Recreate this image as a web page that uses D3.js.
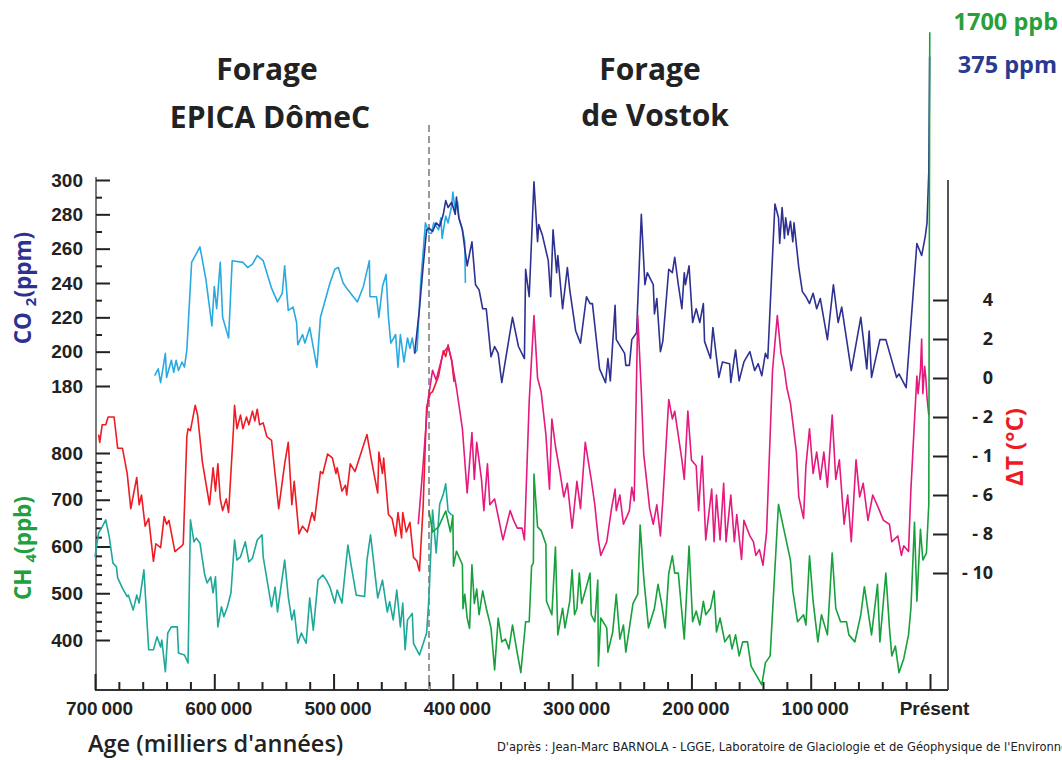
<!DOCTYPE html>
<html>
<head>
<meta charset="utf-8">
<script src="https://cdn.jsdelivr.net/npm/d3@7"></script>
<style>
  body { margin: 0; background: #fff; }
  svg { display: block; font-family: "Open Sans", "DejaVu Sans", sans-serif; }
  .tick text { font-weight: 700; fill: #222; }
</style>
</head>
<body>
<div id="chart"></div>
<script>
// ages in thousands of years before present
const co2Epica = [[650,186],[647,190],[645,182],[641,199],[640,185],[636,195],[634,188],[632,195],[630,189],[627,194],[625,191],[623,201],[619,252],[612,261],[607,242],[602,215],[600,238],[598,225],[597,234],[595,252],[593,220],[588,208],[585,253],[576,252],[572,249],[568,251],[564,256],[559,253],[552,237],[547,229],[543,234],[541,250],[538,224],[534,226],[531,217],[530,204],[526,210],[524,205],[520,214],[514,191],[511,220],[503,240],[499,248],[496,249],[492,240],[488,236],[480,229],[475,238],[470,253],[469.5,232],[464,232],[462,220],[459,238],[456,245],[454,220],[452,205],[448,210],[446,191],[444,210],[441,194],[438,208],[436,202],[434,208],[432,199],[430,201],[427,240],[423,275],[420,269],[418,269],[416,275],[412,271],[410,278],[409,266],[406,279],[404,275],[401,285],[400,293],[398,282],[396,287],[395,278],[392,271],[390,264],[389.5,240]];

const co2Vostok = [[432,199],[428,225],[425,249],[422,271],[420,272],[417,270],[414,275],[411,273],[408,280],[406,288],[404,284],[401,287],[398,280],[397,290],[395,278],[392,271],[390,260],[388,250],[384,264],[381,239],[378,236],[375,225],[372,225],[368,197],[365,203],[362,199],[359,182],[350,220],[345,203],[340,196],[339,248],[336,232],[332,299],[329,264],[328,274],[325,268],[320,253],[318,232],[316,271],[313,246],[312,256],[308,225],[304,249],[302,236],[297,212],[293,205],[288,232],[285,228],[283,228],[277,190],[272,182],[270,196],[268,183],[264,227],[263,207],[256,199],[255,192],[252,192],[250,207],[246,211],[242,280],[239,239],[237,246],[232,239],[231,222],[229,231],[226,200],[224,206],[219,248],[216,246],[214,255],[211,239],[208,225],[206,246],[205,239],[202,250],[199,217],[196,225],[193,217],[190,228],[189,206],[184,196],[182,214],[177,185],[174,194],[168,193],[167,182],[163,201],[160,183],[156,194],[151,200],[147,189],[144,193],[141,186],[138,199],[136,196],[130,286],[127,278],[126,263],[124,284],[122,266],[121,278],[119,268],[117,276],[115,264],[114,275],[110,249],[107,235],[104,232],[101,228],[98,234],[95,225],[92,231],[86,207],[81,239],[77,217],[74,226],[66,189],[58,220],[53,190],[51,212],[49,185],[42,207],[37,207],[28,185],[26,187],[20,179],[11,263],[7,256],[4,267],[2.5,275],[1,305],[0.3,372]];

const tempEpica = [[697,-2.9],[696,-3.3],[694,-2.4],[691,-2.4],[689,-2.0],[684,-2.0],[681,-3.6],[677,-3.6],[673,-4.9],[670,-6.7],[665,-5.1],[663,-6.5],[661,-6.0],[658,-7.6],[655,-7.2],[651,-9.4],[649,-8.5],[645,-8.7],[642,-7.1],[640,-7.5],[638,-7.3],[633,-8.9],[627,-8.6],[626,-8.5],[623,-3.0],[622,-2.6],[620,-2.7],[616,-1.4],[614,-1.9],[610,-4.3],[604,-6.5],[601,-4.6],[599,-5.8],[597,-4.4],[595,-6.2],[593,-6.8],[590,-6.2],[588,-6.9],[584,-2.7],[583,-1.4],[581,-2.6],[578,-1.9],[576,-2.6],[573,-2.0],[571,-2.4],[568,-1.7],[566,-2.2],[564,-1.6],[562,-2.4],[559,-2.3],[556,-3.0],[552,-3.2],[546,-6.7],[541,-4.4],[538,-3.3],[536,-5.4],[535,-6.5],[533,-5.3],[529,-8.0],[526,-7.6],[522,-7.9],[518,-6.9],[516,-7.3],[511,-4.8],[509,-4.9],[505,-3.9],[501,-4.1],[498,-4.9],[497,-4.6],[493,-5.8],[490,-5.5],[489,-6.0],[486,-4.4],[482,-4.8],[472,-2.9],[468,-4.3],[463,-5.9],[462,-3.8],[459,-4.9],[458,-4.1],[454,-7.0],[451,-7.2],[448,-8.1],[446,-6.9],[443,-8.2],[442,-6.9],[439,-7.9],[436,-7.4],[433,-9.2],[430,-9.4],[429,-9.7],[428,-9.9],[425,-6.7],[422,-1.5],[419,-0.8],[417,-0.7],[412,0.1],[408,1.4],[406,1.1],[404,1.7],[401,0.9],[399,-0.2]];

const tempVostok = [[429,-7.5],[425,-4.5],[421,-1.2],[417,0.4],[414,-0.1],[411,0.6],[408,1.3],[404,1.6],[401,0.9],[397,-0.5],[392,-2.6],[388,-5.9],[384,-2.8],[382,-5.2],[380,-3.3],[376,-5.2],[374,-6.8],[371,-4.4],[369,-6.5],[365,-6.2],[358,-8.3],[352,-6.8],[349,-7.3],[346,-7.7],[342,-7.7],[340,-8.3],[336,-1.2],[332,3.2],[329,0.0],[326,-0.7],[322,-2.9],[319,-5.7],[317,-2.1],[314,-3.5],[310,-4.9],[307,-6.1],[304,-5.4],[300,-7.7],[296,-5.3],[293,-6.7],[289,-3.3],[284,-5.2],[281,-6.5],[278,-8.3],[276,-9.1],[271,-8.4],[267,-6.7],[264,-5.7],[263,-6.8],[260,-6.0],[257,-7.5],[252,-6.8],[250,-5.6],[248,-6.3],[245,3.2],[242,-0.7],[240,-3.9],[235,-6.7],[232,-7.5],[229,-6.5],[226,-8.1],[224,-6.3],[219,-1.1],[216,-2.1],[214,-1.7],[208,-4.2],[206,-5.2],[203,-1.7],[200,-4.2],[196,-4.5],[194,-6.8],[191,-4.0],[188,-8.3],[183,-5.7],[181,-8.4],[179,-6.0],[176,-8.3],[173,-5.4],[171,-8.4],[167,-6.0],[164,-8.4],[162,-7.0],[158,-9.3],[156,-7.3],[151,-8.1],[148,-8.4],[146,-9.1],[143,-8.8],[140,-9.6],[137,-7.9],[132,0.4],[128,3.2],[125,1.3],[122,0.4],[120,-0.5],[117,-1.3],[114,-2.8],[112,-3.8],[110,-6.1],[106,-7.2],[104,-4.5],[101,-2.6],[98,-4.9],[95,-3.8],[92,-5.2],[89,-3.8],[86,-5.6],[82,-1.9],[79,-5.2],[76,-4.2],[72,-7.5],[69,-6.0],[66,-8.4],[62,-4.2],[59,-6.1],[56,-5.4],[52,-7.3],[48,-6.0],[43,-6.7],[39,-7.3],[34,-7.5],[32,-8.4],[27,-8.1],[24,-9.1],[22,-8.6],[18,-8.9],[16,-5.7],[13,-2.2],[11,0.1],[10,-0.8],[8,0.4],[7,2.0],[6,-0.8],[4.5,0.6],[3.5,0.0],[2.5,-1.0],[1,-1.9]];

const ch4Epica = [[700,578],[697,629],[694,642],[691,657],[688,620],[685,565],[682,556],[681,533],[677,511],[673,493],[672,496],[668,464],[665,496],[663,479],[659,550],[655,379],[651,379],[648,407],[645,385],[644,400],[641,332],[639,415],[636,428],[631,428],[630,372],[625,368],[622,351],[620,657],[617,610],[615,618],[612,607],[608,539],[606,522],[603,535],[601,501],[599,535],[597,428],[594,471],[592,450],[589,471],[586,501],[583,614],[581,571],[578,578],[574,610],[571,567],[568,575],[564,614],[560,625],[559,578],[552,471],[549,513],[547,460],[541,571],[538,493],[535,443],[533,464],[530,393],[527,415],[523,393],[520,490],[517,421],[513,528],[509,539],[506,528],[503,513],[499,479],[497,507],[493,479],[488,603],[485,556],[481,496],[474,493],[472,571],[469,625],[463,490],[459,528],[455,460],[453,482],[450,443],[447,507],[444,428],[442,479],[440,379],[438,443],[434,457],[433,393],[428,368],[422,415],[420,493],[417,678],[414,586],[411,691],[408,712],[406,734],[404,676],[401,667]];

const ch4Vostok = [[420,676],[417,631],[412,642],[406,676],[402,631],[400,667],[399.5,558],[397,590],[392,561],[391.5,467],[390,498],[388,447],[386,425],[384,561],[382,478],[380,509],[378,454],[375,505],[372,468],[368,426],[365,336],[362,447],[359,396],[356,402],[353,381],[350,432],[346,372],[343,330],[339,439],[336,439],[334,558],[332.5,565],[332,755],[329,642],[326,634],[322,605],[321.5,483],[317,454],[314,599],[312,411],[308,468],[306,426],[302,483],[300,550],[298,454],[296,468],[294,543],[292,478],[288,514],[285,543],[284,454],[281,439],[278.5,528],[278,344],[276,447],[271,426],[270,374],[266,417],[263,498],[260,402],[257,432],[255,374],[252,426],[249,478],[245,498],[243,646],[240,534],[236,426],[231,468],[228,519],[225,478],[222,426],[219,543],[216,580],[214,543],[211,543],[206,402],[202,601],[199,439],[196,462],[193,432],[190,483],[188,454],[184,468],[181,505],[179,417],[176,447],[172,396],[168,411],[166,381],[163,411],[160,366],[157,396],[153,396],[150,344],[141,304],[138,351],[134,366],[128,646],[127,690],[117,571],[115,505],[111,439],[106,454],[104,432],[101,580],[98,483],[94,396],[91,454],[86,411],[82,586],[79,468],[75,439],[70,439],[68,411],[63,396],[58,454],[55,514],[49,411],[44,519],[42,396],[37,543],[34,426],[32,366],[29,387],[26,330],[22,360],[18,411],[16,468],[13,652],[11,483],[8,637],[6,571],[3,586],[1,691],[0.2,1700]];

const co2Ticks = [180, 200, 220, 240, 260, 280, 300];
const ch4Ticks = [400, 500, 600, 700, 800];
const tempTicks = [4, 2, 0, -2, -4, -6, -8, -10];
const tempTickLabels = ["4", "2", "0", "- 2", "- 1", "- 6", "- 8", "- 10"];
const ageTicks = [700, 600, 500, 400, 300, 200, 100, 0];
const ageTickLabels = ["700\u2009000", "600\u2009000", "500\u2009000", "400\u2009000", "300\u2009000", "200\u2009000", "100\u2009000", "Présent"];
const drillSplit = 420;

const width = 1062;
const height = 760;

const svg = d3.select("#chart")
  .append("svg")
  .attr("width", width)
  .attr("height", height);

// Scales
const x = d3.scaleLinear().domain([700, 0]).range([95, 930]);
const yCO2 = d3.scaleLinear().domain([180, 300]).range([386, 180]);
const yCH4 = d3.scaleLinear().domain([400, 800]).range([640, 453]);
const yT = d3.scaleLinear().domain([-10, 4]).range([573, 300]);

const axisLeftX = 96;
const axisRightX = 948;
const axisBottomY = 690;

// Axis lines
svg.append("line")
  .attr("x1", axisLeftX).attr("x2", axisLeftX)
  .attr("y1", 177).attr("y2", axisBottomY)
  .attr("stroke", "#7a7a7a").attr("stroke-width", 2);

svg.append("line")
  .attr("x1", axisRightX).attr("x2", axisRightX)
  .attr("y1", 180).attr("y2", axisBottomY)
  .attr("stroke", "#555").attr("stroke-width", 2);

svg.append("line")
  .attr("x1", axisLeftX - 1).attr("x2", axisRightX)
  .attr("y1", axisBottomY).attr("y2", axisBottomY)
  .attr("stroke", "#333").attr("stroke-width", 2);

function styleAxis(g) {
  g.select(".domain").remove();
  g.selectAll(".tick line").attr("stroke", "#222").attr("stroke-width", 2);
}

// CO2 axis (left, upper)
svg.append("g")
  .attr("transform", `translate(${axisLeftX},0)`)
  .call(d3.axisLeft(yCO2).tickValues(d3.range(190, 300, 20)).tickSize(-6).tickFormat(""))
  .call(styleAxis);

svg.append("g")
  .attr("transform", `translate(${axisLeftX},0)`)
  .call(d3.axisLeft(yCO2).tickValues(co2Ticks).tickSize(-14).tickPadding(13))
  .call(styleAxis)
  .selectAll("text").attr("font-size", 19);

// CH4 axis (left, lower)
svg.append("g")
  .attr("transform", `translate(${axisLeftX},0)`)
  .call(d3.axisLeft(yCH4).tickValues(d3.range(420, 800, 20).filter(d => d % 100)).tickSize(-6).tickFormat(""))
  .call(styleAxis);

svg.append("g")
  .attr("transform", `translate(${axisLeftX},0)`)
  .call(d3.axisLeft(yCH4).tickValues(ch4Ticks).tickSize(-14).tickPadding(13))
  .call(styleAxis)
  .selectAll("text").attr("font-size", 19);

// Temperature axis (right)
svg.append("g")
  .attr("transform", `translate(${axisRightX},0)`)
  .call(d3.axisLeft(yT).tickValues(tempTicks).tickSize(15).tickFormat(""))
  .call(styleAxis);

svg.append("g")
  .selectAll("text")
  .data(tempTicks)
  .join("text")
  .attr("x", 993)
  .attr("y", d => yT(d))
  .attr("dy", "0.35em")
  .attr("text-anchor", "end")
  .attr("font-size", 18)
  .attr("font-weight", 700)
  .attr("fill", "#222")
  .text((d, i) => tempTickLabels[i]);

// Age axis (bottom)
svg.append("g")
  .attr("transform", `translate(0,${axisBottomY})`)
  .call(d3.axisBottom(x).tickValues(d3.range(20, 700, 20).filter(d => d % 100)).tickSize(-8).tickFormat(""))
  .call(styleAxis);

svg.append("g")
  .attr("transform", `translate(0,${axisBottomY})`)
  .call(d3.axisBottom(x).tickValues(ageTicks).tickSize(-16).tickPadding(12)
    .tickFormat((d, i) => ageTickLabels[i]))
  .call(styleAxis)
  .selectAll("text").attr("font-size", 19).attr("dx", 4);

// Boundary between the two drillings
svg.append("line")
  .attr("x1", x(drillSplit)).attr("x2", x(drillSplit))
  .attr("y1", 125).attr("y2", axisBottomY)
  .attr("stroke", "#999")
  .attr("stroke-width", 2)
  .attr("stroke-dasharray", "7,4");

// Series
const series = [
  { data: co2Epica, y: yCO2, color: "#29abe2" },
  { data: tempEpica, y: yT, color: "#ed1c24" },
  { data: ch4Epica, y: yCH4, color: "#1ea89a" },
  { data: co2Vostok, y: yCO2, color: "#2e3192" },
  { data: tempVostok, y: yT, color: "#e5197e" },
  { data: ch4Vostok, y: yCH4, color: "#17a03c" },
];

for (const s of series) {
  svg.append("path")
    .datum(s.data)
    .attr("fill", "none")
    .attr("stroke", s.color)
    .attr("stroke-width", 1.6)
    .attr("stroke-linejoin", "round")
    .attr("d", d3.line().x(d => x(d[0])).y(d => s.y(d[1])));
}

// Titles
[["Forage", 267, 80], ["EPICA DômeC", 270, 128], ["Forage", 650, 80], ["de Vostok", 655, 126]]
  .forEach(([t, tx, ty]) => {
    svg.append("text")
      .attr("x", tx).attr("y", ty)
      .attr("text-anchor", "middle")
      .attr("font-size", 30)
      .attr("font-weight", 700)
      .attr("fill", "#222")
      .text(t);
  });

// Present-day values
svg.append("text")
  .attr("x", 1058).attr("y", 30)
  .attr("text-anchor", "end")
  .attr("font-size", 23.5).attr("font-weight", 700)
  .attr("fill", "#27a03a")
  .text("1700 ppb");

svg.append("text")
  .attr("x", 1057).attr("y", 73)
  .attr("text-anchor", "end")
  .attr("font-size", 23.5).attr("font-weight", 700)
  .attr("fill", "#2b3990")
  .text("375 ppm");

// Axis titles
function rotatedLabel(cx, cy, color, parts) {
  const t = svg.append("text")
    .attr("transform", `translate(${cx},${cy}) rotate(-90)`)
    .attr("text-anchor", "middle")
    .attr("font-size", 22.5)
    .attr("font-weight", 700)
    .attr("fill", color);
  for (const [txt, sub] of parts) {
    const span = t.append("tspan").text(txt);
    if (sub) span.attr("font-size", 15).attr("dy", 5);
    else if (t.selectAll("tspan").size() > 1) span.attr("dy", -5);
  }
  return t;
}

rotatedLabel(31, 288, "#2e3192", [["CO ", false], ["2", true], ["(ppm)", false]]);
rotatedLabel(31, 548, "#1ea03c", [["CH ", false], ["4", true], ["(ppb)", false]]);

svg.append("text")
  .attr("transform", "translate(1023,447) rotate(-90)")
  .attr("text-anchor", "middle")
  .attr("font-size", 24)
  .attr("font-weight", 700)
  .attr("fill", "#ed1c24")
  .text("\u0394T (°C)");

// Bottom labels
svg.append("text")
  .attr("x", 88).attr("y", 752)
  .attr("font-size", 23.5)
  .attr("font-weight", 600)
  .attr("fill", "#222")
  .text("Age (milliers d'années)");

// the source line runs past the right edge, as in the original figure
svg.append("text")
  .attr("x", 497).attr("y", 751)
  .attr("font-family", "'Liberation Sans Narrow', 'DejaVu Sans Condensed', sans-serif")
  .attr("font-size", 12.8)
  .attr("fill", "#222")
  .text("D'après : Jean-Marc BARNOLA - LGGE, Laboratoire de Glaciologie et de Géophysique de l'Environnement");
</script>
</body>
</html>
